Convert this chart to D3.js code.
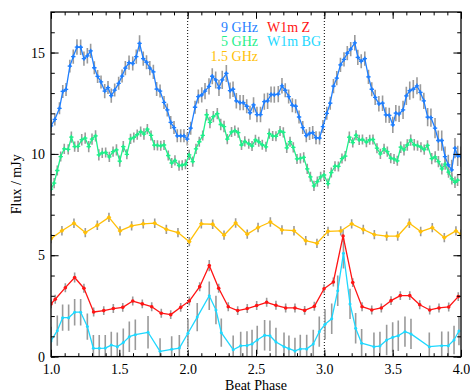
<!DOCTYPE html>
<html>
<head>
<meta charset="utf-8">
<script src="https://cdn.jsdelivr.net/npm/d3@7"></script>
<style>
  html, body { margin: 0; padding: 0; background: #fff; }
  svg { display: block; }
  svg text { font-family: "Liberation Serif", "Times New Roman", serif; }
</style>
</head>
<body>
<svg id="chart" width="470" height="392"></svg>
<script>
// Each entry: [beat phase, flux density (mJy), 1-sigma error]
const ghz9 = [[1.000,11.38,.30],[1.028,11.70,.30],[1.062,12.25,.30],[1.086,13.08,.32],[1.110,13.18,.32],[1.138,14.33,.32],[1.163,14.80,.35],[1.190,15.27,.38],[1.217,15.26,.38],[1.241,14.70,.35],[1.266,14.84,.38],[1.290,15.08,.35],[1.317,14.25,.32],[1.341,13.82,.32],[1.366,13.55,.32],[1.393,13.10,.35],[1.417,13.27,.32],[1.441,12.87,.35],[1.466,13.15,.32],[1.495,13.48,.32],[1.520,13.84,.32],[1.544,14.23,.35],[1.571,14.50,.35],[1.598,14.46,.35],[1.624,14.80,.35],[1.648,15.45,.40],[1.675,14.70,.35],[1.699,14.52,.35],[1.723,14.23,.35],[1.749,14.05,.35],[1.773,13.20,.35],[1.798,13.10,.32],[1.827,12.54,.32],[1.851,12.17,.32],[1.876,11.55,.32],[1.900,11.30,.32],[1.924,10.89,.32],[1.949,10.89,.32],[1.973,10.89,.32],[1.997,10.73,.32],[2.022,11.27,.32],[2.054,12.30,.32],[2.078,12.83,.35],[2.103,12.91,.38],[2.127,13.10,.40],[2.156,13.33,.40],[2.180,13.83,.40],[2.205,13.65,.42],[2.229,13.26,.40],[2.253,13.65,.45],[2.283,13.97,.42],[2.310,13.12,.40],[2.332,13.19,.38],[2.356,12.62,.38],[2.383,12.53,.38],[2.407,12.53,.38],[2.432,12.35,.35],[2.456,12.03,.35],[2.482,12.42,.38],[2.507,11.94,.38],[2.533,11.94,.38],[2.561,12.58,.40],[2.585,12.62,.40],[2.610,12.93,.40],[2.634,12.92,.40],[2.663,12.95,.40],[2.690,13.36,.38],[2.714,13.14,.35],[2.739,12.83,.35],[2.766,12.40,.35],[2.790,12.35,.35],[2.815,11.82,.32],[2.842,11.30,.32],[2.868,10.90,.32],[2.892,11.01,.32],[2.915,11.05,.32],[2.939,10.80,.32],[2.965,10.78,.32],[2.990,11.35,.32],[3.018,12.00,.32],[3.043,12.50,.32],[3.067,13.34,.35],[3.091,13.74,.35],[3.118,14.39,.35],[3.144,14.66,.35],[3.168,14.97,.35],[3.193,15.17,.35],[3.223,15.48,.38],[3.245,14.76,.38],[3.270,14.57,.35],[3.296,14.70,.35],[3.323,13.80,.35],[3.347,13.19,.35],[3.372,12.79,.38],[3.399,12.47,.38],[3.426,12.50,.38],[3.450,11.92,.38],[3.475,11.90,.38],[3.501,11.43,.40],[3.523,12.01,.40],[3.547,11.97,.40],[3.576,12.17,.45],[3.600,12.86,.45],[3.625,13.12,.45],[3.651,13.19,.45],[3.678,13.36,.42],[3.703,13.03,.40],[3.728,12.62,.40],[3.756,11.81,.45],[3.780,11.79,.45],[3.810,11.27,.50],[3.834,10.66,.50],[3.859,10.66,.50],[3.883,9.87,.50],[3.907,9.46,.50],[3.932,9.21,.50],[3.956,10.28,.50],[3.976,9.90,.50],[4.000,9.87,.50]];

const ghz5 = [[1.000,8.26,.25],[1.023,8.56,.25],[1.046,9.18,.25],[1.071,9.87,.25],[1.097,10.25,.25],[1.126,10.22,.25],[1.149,10.83,.28],[1.173,10.36,.25],[1.198,10.37,.28],[1.225,10.70,.28],[1.250,10.78,.28],[1.276,10.36,.28],[1.300,10.73,.28],[1.326,10.89,.28],[1.350,9.95,.28],[1.375,10.05,.25],[1.400,10.07,.25],[1.427,9.85,.25],[1.454,10.11,.25],[1.479,10.20,.28],[1.503,9.64,.28],[1.529,10.36,.28],[1.555,9.98,.25],[1.582,10.74,.25],[1.606,10.81,.25],[1.631,10.95,.25],[1.656,11.10,.25],[1.680,10.98,.28],[1.705,11.22,.25],[1.732,10.91,.25],[1.756,10.43,.25],[1.779,10.42,.25],[1.803,10.40,.25],[1.827,10.44,.25],[1.858,9.92,.25],[1.883,9.55,.25],[1.907,9.68,.25],[1.937,9.42,.25],[1.960,9.44,.25],[1.984,9.49,.25],[2.011,9.95,.25],[2.037,9.62,.25],[2.061,10.25,.25],[2.085,10.60,.25],[2.110,10.91,.25],[2.139,11.93,.28],[2.163,11.55,.28],[2.188,11.84,.28],[2.217,11.99,.28],[2.242,11.45,.28],[2.266,11.35,.28],[2.290,10.73,.25],[2.321,11.08,.25],[2.345,11.15,.25],[2.370,11.05,.25],[2.394,10.44,.25],[2.418,10.62,.25],[2.447,10.50,.25],[2.471,10.39,.25],[2.496,10.69,.25],[2.520,10.60,.25],[2.546,10.45,.25],[2.573,10.35,.25],[2.597,11.00,.25],[2.622,10.88,.25],[2.646,10.87,.25],[2.676,11.13,.25],[2.700,11.06,.25],[2.725,10.30,.25],[2.749,10.60,.25],[2.773,10.32,.25],[2.800,9.75,.25],[2.825,9.78,.25],[2.849,9.83,.25],[2.875,9.26,.25],[2.898,8.87,.25],[2.924,8.42,.25],[2.949,8.63,.25],[2.973,8.87,.25],[2.998,8.96,.25],[3.027,8.53,.25],[3.051,9.08,.25],[3.078,9.39,.25],[3.103,9.38,.25],[3.129,9.77,.25],[3.153,9.89,.25],[3.183,10.82,.28],[3.208,10.56,.25],[3.232,10.92,.25],[3.255,10.69,.25],[3.279,10.71,.25],[3.308,10.58,.25],[3.332,10.70,.25],[3.356,10.71,.25],[3.385,10.28,.25],[3.410,10.00,.25],[3.437,10.25,.25],[3.461,10.11,.25],[3.486,9.79,.25],[3.510,9.75,.25],[3.534,9.66,.25],[3.559,10.33,.28],[3.583,10.20,.28],[3.607,10.44,.28],[3.632,10.68,.28],[3.658,10.45,.28],[3.682,10.41,.25],[3.707,10.33,.25],[3.731,10.21,.25],[3.755,10.42,.25],[3.786,9.77,.28],[3.811,9.85,.28],[3.835,9.62,.28],[3.860,9.26,.28],[3.884,9.50,.28],[3.909,9.10,.28],[3.933,8.77,.28],[3.956,8.60,.28],[3.975,8.70,.28]];

const ghz15 = [[1.000,5.82,.23],[1.080,6.21,.23],[1.168,6.58,.23],[1.251,6.12,.23],[1.339,6.48,.23],[1.424,6.87,.23],[1.505,6.20,.23],[1.590,6.45,.23],[1.675,6.55,.23],[1.759,6.58,.23],[1.844,6.28,.23],[1.929,6.12,.23],[2.012,5.67,.23],[2.100,6.55,.23],[2.183,6.53,.23],[2.266,5.99,.23],[2.351,6.59,.23],[2.436,6.04,.23],[2.515,6.37,.23],[2.605,6.64,.23],[2.690,6.25,.23],[2.778,6.21,.23],[2.864,5.72,.23],[2.946,5.59,.23],[3.027,6.18,.23],[3.120,6.20,.23],[3.200,6.55,.23],[3.285,6.27,.23],[3.366,6.02,.23],[3.456,5.94,.23],[3.537,5.95,.23],[3.622,6.58,.23],[3.705,6.17,.23],[3.790,6.36,.23],[3.878,5.87,.23],[3.963,6.20,.23],[4.000,6.04,.23]];

const w1mZ = [[1.000,2.60,.22],[1.031,2.83,.22],[1.105,3.40,.22],[1.173,3.90,.25],[1.241,3.37,.22],[1.312,2.20,.22],[1.386,2.27,.22],[1.456,2.37,.22],[1.525,2.43,.22],[1.598,2.74,.22],[1.668,2.60,.22],[1.737,2.46,.22],[1.807,2.14,.22],[1.876,2.07,.22],[1.949,2.43,.22],[2.012,2.74,.22],[2.088,3.45,.22],[2.158,4.49,.28],[2.227,3.37,.22],[2.297,2.46,.22],[2.366,2.27,.22],[2.436,2.37,.22],[2.505,2.52,.22],[2.578,2.68,.22],[2.646,2.53,.22],[2.717,2.40,.22],[2.785,2.40,.22],[2.856,2.28,.22],[2.927,2.48,.22],[2.998,3.35,.22],[3.066,3.68,.22],[3.137,5.95,.30],[3.208,3.65,.22],[3.276,2.46,.22],[3.347,2.30,.22],[3.417,2.40,.22],[3.488,2.76,.22],[3.556,3.01,.22],[3.625,3.01,.22],[3.698,2.56,.22],[3.771,2.30,.22],[3.839,2.40,.22],[3.910,2.45,.22],[3.980,2.96,.22]];

const w1mBG = [[1.000,0.77,.70],[1.046,1.28,.75],[1.085,1.92,.65],[1.129,1.92,.65],[1.173,2.19,.65],[1.217,2.19,.65],[1.266,1.48,.65],[1.310,0.41,.65],[1.353,0.41,.65],[1.397,0.42,.65],[1.441,0.57,.65],[1.485,0.49,.70],[1.529,0.69,.70],[1.573,0.98,.75],[1.617,1.08,.75],[1.710,1.20,.80],[1.798,0.26,.65],[1.883,0.36,.65],[1.939,0.42,.65],[2.002,1.15,.70],[2.070,1.95,.70],[2.158,3.00,.70],[2.207,2.30,.70],[2.246,1.18,.70],[2.333,0.34,.70],[2.388,0.53,.70],[2.434,0.55,.70],[2.471,0.62,.70],[2.509,0.82,.70],[2.563,1.05,.75],[2.602,1.03,.75],[2.646,0.72,.70],[2.705,0.49,.70],[2.741,0.39,.65],[2.785,0.28,.65],[2.824,0.38,.70],[2.871,0.38,.70],[2.919,0.62,.70],[2.963,1.23,.75],[3.005,1.59,.75],[3.054,1.87,.75],[3.098,3.25,.75],[3.140,5.10,.75],[3.188,2.60,.75],[3.229,1.40,.75],[3.273,0.66,.70],[3.363,0.49,.70],[3.407,0.52,.70],[3.456,0.82,.75],[3.500,0.95,.75],[3.541,1.03,.75],[3.590,1.23,.75],[3.634,1.12,.75],[3.768,0.49,.70],[3.859,0.54,.70],[3.907,0.54,.70],[3.949,0.82,.70],[3.985,1.26,.70]];

const xTickValues = [1.0, 1.5, 2.0, 2.5, 3.0, 3.5, 4.0];
const yTickValues = [0, 5, 10, 15];
const cycleBoundaries = [2.0, 3.0];
const legendLeft = ["9 GHz", "5 GHz", "1.5 GHz"];
const legendRight = ["W1m Z", "W1m BG"];

// ---- layout ----
const serif = "Liberation Serif, Times New Roman, serif";
const svg = d3.select("#chart");
const plot = { left: 51, right: 461, top: 12, bottom: 356.6 };
const x = d3.scaleLinear().domain([1, 4]).range([plot.left, plot.right]);
const y = d3.scaleLinear().domain([0, 17]).range([plot.bottom, plot.top]);

const colors = {
  ghz9: "#1f7fff", ghz5: "#1fef8a", ghz15: "#ffbf08",
  w1mZ: "#ff1414", w1mBG: "#1ed8ff"
};

const series = [
  { data: w1mBG, color: colors.w1mBG, marker: "dot", r: 1.5 },
  { data: w1mZ,  color: colors.w1mZ,  marker: "dot", r: 1.8 },
  { data: ghz15, color: colors.ghz15, marker: "diamond", r: 2.4 },
  { data: ghz5,  color: colors.ghz5,  marker: "plus", r: 2.2 },
  { data: ghz9,  color: colors.ghz9,  marker: "plus", r: 2.2 }
];

svg.append("defs").append("clipPath").attr("id", "plotClip")
  .append("rect")
  .attr("x", plot.left).attr("y", plot.top)
  .attr("width", plot.right - plot.left).attr("height", plot.bottom - plot.top);

const body = svg.append("g").attr("clip-path", "url(#plotClip)");

// vertical dotted lines marking whole beat cycles
body.selectAll("line.cycle").data(cycleBoundaries).join("line")
  .attr("class", "cycle")
  .attr("x1", d => x(d)).attr("x2", d => x(d))
  .attr("y1", plot.top).attr("y2", plot.bottom)
  .attr("stroke", "#000").attr("stroke-width", 1)
  .attr("stroke-dasharray", "1,2");

// error bars
series.forEach(s => {
  body.append("g").selectAll("line").data(s.data).join("line")
    .attr("x1", d => x(d[0])).attr("x2", d => x(d[0]))
    .attr("y1", d => y(d[1] - d[2])).attr("y2", d => y(d[1] + d[2]))
    .attr("stroke", "#9a9a9a").attr("stroke-width", 1.6);
});

// light curves
const line = d3.line().x(d => x(d[0])).y(d => y(d[1]));
series.forEach(s => {
  body.append("path").datum(s.data)
    .attr("d", line)
    .attr("fill", "none")
    .attr("stroke", s.color)
    .attr("stroke-width", 1.3)
    .attr("stroke-linejoin", "round");
});

// point markers
series.forEach(s => {
  const g = body.append("g");
  const pts = g.selectAll("g").data(s.data).join("g")
    .attr("transform", d => `translate(${x(d[0])},${y(d[1])})`);
  if (s.marker === "plus") {
    pts.append("path")
      .attr("d", `M${-s.r},0H${s.r}M0,${-s.r}V${s.r}`)
      .attr("stroke", s.color).attr("stroke-width", 1.3);
    pts.append("circle").attr("r", 1.3).attr("fill", s.color);
  } else if (s.marker === "diamond") {
    pts.append("path")
      .attr("d", `M0,${-s.r}L${s.r},0L0,${s.r}L${-s.r},0Z`)
      .attr("fill", s.color);
  } else {
    pts.append("circle").attr("r", s.r).attr("fill", s.color);
  }
});

// ---- axes ----
const fontSize = 14;
function styleAxis(g) {
  g.select(".domain").remove();
  g.attr("font-family", serif).attr("font-size", fontSize);
  g.selectAll(".tick line").attr("stroke", "#000").attr("stroke-width", 1);
  g.selectAll(".tick text").attr("fill", "#000").attr("font-family", serif);
}
const xMinor = d3.range(10, 41).map(v => v / 10);
const yMinor = d3.range(0, 18);

// bottom
svg.append("g").attr("transform", `translate(0,${plot.bottom})`)
  .call(d3.axisBottom(x).tickValues(xMinor).tickSize(-3.4).tickFormat(""))
  .call(styleAxis);
svg.append("g").attr("transform", `translate(0,${plot.bottom})`)
  .call(d3.axisBottom(x).tickValues(xTickValues).tickSize(-6.8).tickPadding(7.5)
        .tickFormat(d3.format(".1f")))
  .call(styleAxis);
// top
svg.append("g").attr("transform", `translate(0,${plot.top})`)
  .call(d3.axisTop(x).tickValues(xMinor).tickSize(-3.4).tickFormat(""))
  .call(styleAxis);
svg.append("g").attr("transform", `translate(0,${plot.top})`)
  .call(d3.axisTop(x).tickValues(xTickValues).tickSize(-6.8).tickFormat(""))
  .call(styleAxis);
// left
svg.append("g").attr("transform", `translate(${plot.left},0)`)
  .call(d3.axisLeft(y).tickValues(yMinor).tickSize(-3.8).tickFormat(""))
  .call(styleAxis);
svg.append("g").attr("transform", `translate(${plot.left},0)`)
  .call(d3.axisLeft(y).tickValues(yTickValues).tickSize(-7.6).tickPadding(6)
        .tickFormat(d3.format("d")))
  .call(styleAxis);
// right
svg.append("g").attr("transform", `translate(${plot.right},0)`)
  .call(d3.axisRight(y).tickValues(yMinor).tickSize(-3.8).tickFormat(""))
  .call(styleAxis);
svg.append("g").attr("transform", `translate(${plot.right},0)`)
  .call(d3.axisRight(y).tickValues(yTickValues).tickSize(-7.6).tickFormat(""))
  .call(styleAxis);

// frame
svg.append("rect")
  .attr("x", plot.left).attr("y", plot.top)
  .attr("width", plot.right - plot.left).attr("height", plot.bottom - plot.top)
  .attr("fill", "none").attr("stroke", "#000").attr("stroke-width", 1.3);

// axis titles
svg.append("text")
  .attr("x", (plot.left + plot.right) / 2).attr("y", 389.5)
  .attr("text-anchor", "middle").attr("font-size", fontSize)
  .attr("font-family", serif)
  .text("Beat Phase");
svg.append("text")
  .attr("transform", `translate(20.5,${(plot.top + plot.bottom) / 2}) rotate(-90)`)
  .attr("text-anchor", "middle").attr("font-size", fontSize)
  .attr("font-family", serif)
  .text("Flux / mJy");

// legend
const legendColorsLeft = [colors.ghz9, colors.ghz5, colors.ghz15];
const legendColorsRight = [colors.w1mZ, colors.w1mBG];
const rowY = i => 31.5 + i * 14.6;
svg.append("g").selectAll("text").data(legendLeft).join("text")
  .attr("x", 258).attr("y", (d, i) => rowY(i))
  .attr("text-anchor", "end").attr("font-size", fontSize)
  .attr("font-family", serif)
  .attr("fill", (d, i) => legendColorsLeft[i])
  .text(d => d);
svg.append("g").selectAll("text").data(legendRight).join("text")
  .attr("x", 267).attr("y", (d, i) => rowY(i))
  .attr("text-anchor", "start").attr("font-size", fontSize)
  .attr("font-family", serif)
  .attr("fill", (d, i) => legendColorsRight[i])
  .text(d => d);
</script>
</body>
</html>
